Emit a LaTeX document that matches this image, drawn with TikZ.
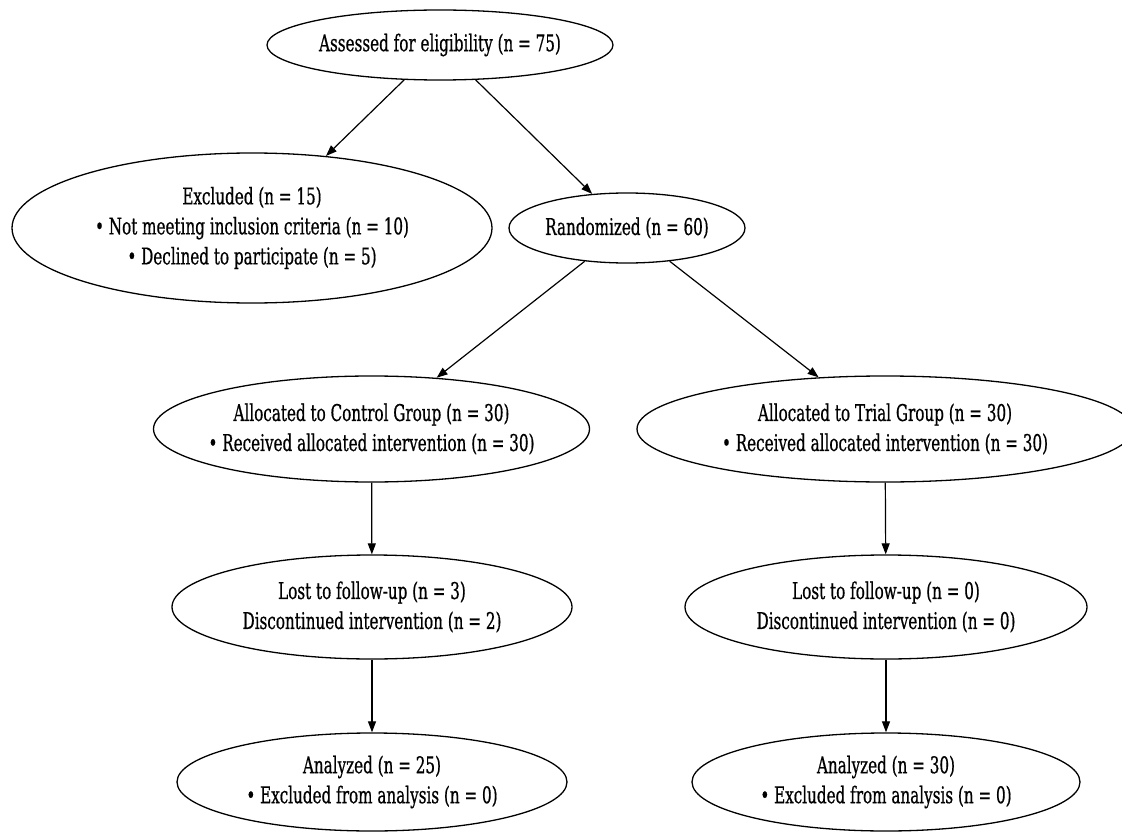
\documentclass[tikz,border=0pt]{standalone}
\usepackage{fontspec}
\newfontfamily\dvserif[FakeStretch=0.66,FakeBold=0.6]{DejaVu Serif}
\usetikzlibrary{shapes.geometric,arrows.meta}
\tikzset{
  box/.style={ellipse,draw=black,line width=1.3pt,inner xsep=-60pt,inner ysep=-30pt,align=center,
    font=\dvserif\fontsize{23}{30}\selectfont},
  arr/.style={line width=1.2pt,-{Triangle[length=11pt,width=8pt]}}
}
\begin{document}
\begin{tikzpicture}[x=1pt,y=-1pt]
\useasboundingbox (0,0) rectangle (1122,832);
\fill[white] (0,0) rectangle (1122,832);
\node[box,minimum width=346pt,minimum height=70pt] (A) at (440,45) {Assessed for eligibility (n = 75)};
\node[box,minimum width=480pt,minimum height=150pt] (E) at (252,228) {Excluded (n = 15)\\ • Not meeting inclusion criteria (n = 10)\\ • Declined to participate (n = 5)};
\node[box,minimum width=236pt,minimum height=70pt] (R) at (627,228) {Randomized (n = 60)};
\node[box,minimum width=436pt,minimum height=106pt] (C) at (371.5,429) {Allocated to Control Group (n = 30)\\ • Received allocated intervention (n = 30)};
\node[box,minimum width=496pt,minimum height=106pt] (T) at (885,429) {Allocated to Trial Group (n = 30)\\ • Received allocated intervention (n = 30)};
\node[box,minimum width=400pt,minimum height=104pt] (LC) at (372,607) {Lost to follow-up (n = 3)\\ Discontinued intervention (n = 2)};
\node[box,minimum width=402pt,minimum height=104pt] (LT) at (886,607) {Lost to follow-up (n = 0)\\ Discontinued intervention (n = 0)};
\node[box,minimum width=390pt,minimum height=98pt] (AC) at (372,782) {Analyzed (n = 25)\\ • Excluded from analysis (n = 0)};
\node[box,minimum width=388pt,minimum height=98pt] (AT) at (886,782) {Analyzed (n = 30)\\ • Excluded from analysis (n = 0)};
\draw[arr] (A) -- (E);
\draw[arr] (A) -- (R);
\draw[arr] (R) -- (C);
\draw[arr] (R) -- (T);
\draw[arr] (C) -- (LC);
\draw[arr] (LC) -- (AC);
\draw[arr] (T) -- (LT);
\draw[arr] (LT) -- (AT);
\end{tikzpicture}
\end{document}
